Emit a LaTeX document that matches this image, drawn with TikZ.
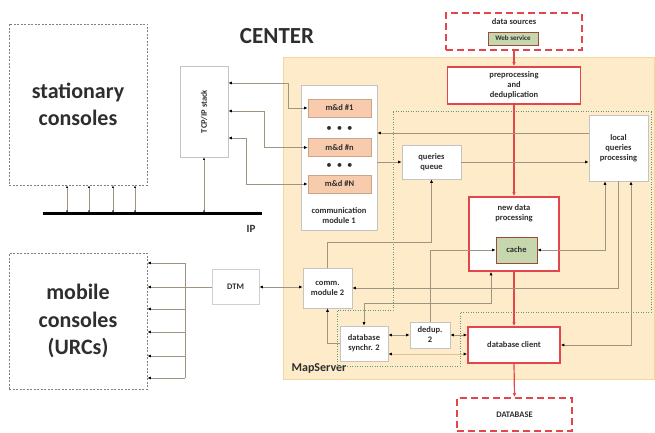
\documentclass[tikz,border=0pt]{standalone}
\usepackage{fontspec}
\setmainfont{Carlito}
\usetikzlibrary{arrows.meta,calc}
\definecolor{bgor}{HTML}{FDEBC9}
\definecolor{bgorline}{HTML}{F2D79E}
\definecolor{redc}{HTML}{E2464A}
\definecolor{txt}{HTML}{2E2E2E}
\definecolor{boxgray}{HTML}{C4C4C4}
\definecolor{lnc}{HTML}{9E9480}
\definecolor{mdfill}{HTML}{F8CBAD}
\definecolor{mdline}{HTML}{C9A58A}
\definecolor{grfill}{HTML}{C6D7AE}
\definecolor{grline}{HTML}{9C4A3A}
\definecolor{dotg}{HTML}{5F9A80}
\begin{document}
\begin{tikzpicture}[x=1pt,y=-1pt,
  font=\fontsize{8.5}{10}\selectfont\bfseries, text=txt,
  box/.style={draw=boxgray, fill=white, line width=0.6pt, align=center, inner sep=1pt, text=txt},
  redbox/.style={draw=redc, line width=1.6pt, fill=white, align=center, inner sep=1pt},
  dashred/.style={draw=redc, line width=1.6pt, dash pattern=on 7pt off 4pt, fill=white, align=center},
  console/.style={draw=gray, line width=0.8pt, dash pattern=on 2pt off 1.5pt, fill=white, align=center, font=\fontsize{22}{27.5}\selectfont\bfseries},
  mdbox/.style={draw=mdline, fill=mdfill, line width=0.6pt, minimum width=63pt, minimum height=18pt, inner sep=0pt},
  grbox/.style={draw=grline, fill=grfill, line width=0.8pt, inner sep=0pt},
  cn/.style={draw=lnc, line width=0.7pt},
  ar/.style={-{Latex[length=3.5pt,width=3pt,color=black]}},
  dar/.style={{Latex[length=3.5pt,width=3pt,color=black]}-{Latex[length=3.5pt,width=3pt,color=black]}},
  sar/.style={{Latex[length=2.5pt,width=2pt,color=black]}-{Latex[length=2.5pt,width=2pt,color=black]}},
  rar/.style={draw=redc, line width=1.2pt, -{Latex[length=4pt,width=3.5pt]}},
  lbl/.style={inner sep=0pt, align=center}
]
\useasboundingbox (0,0) rectangle (655,433);
% MapServer region
\node[draw=bgorline, fill=bgor, line width=1pt, minimum width=371pt, minimum height=321pt, inner sep=0pt] (ms) at (469,218.5) {};
\node[lbl, font=\fontsize{12}{14}\selectfont\bfseries] (mslbl) at (319,369) {MapServer};
% dotted green boundary
\draw[dotg, line width=1pt, dash pattern=on 1pt off 1.5pt] (393,112) -- (651,112) -- (651,312) -- (460,312) -- (460,366) -- (337,366) -- (337,310) -- (393,310) -- cycle;
% title
\node[lbl, font=\fontsize{23}{26}\selectfont\bfseries] (center) at (277,36) {CENTER};
% consoles
\node[console, minimum width=138pt, minimum height=161pt] (stat) at (78,104.5) {stationary\\consoles};
\node[console, minimum width=138pt, minimum height=136pt] (mob) at (78,321) {mobile\\consoles\\(URCs)};
% IP bus
\coordinate (busL) at (43,213);
\coordinate (busR) at (262,213);
\draw[line width=3pt] (busL) -- (busR);
\node[lbl, font=\fontsize{11}{13}\selectfont\bfseries] (ip) at (251,229) {IP};
% TCP/IP
\node[box, minimum width=48pt, minimum height=91pt] (tcp) at (204,111.5) {};
\node[lbl, rotate=90] (tcpt) at (tcp.center) {TCP/IP stack};
% communication module 1
\node[box, minimum width=76pt, minimum height=145pt] (cm1) at (339,157.5) {};
\node[mdbox] (m1) at (339.5,108) {m\&d \#1};
\node[mdbox] (mn) at (339.5,147.5) {m\&d \#n};
\node[mdbox] (mN) at (339.5,184) {m\&d \#N};
\node[lbl, font=\fontsize{11}{13}\selectfont] (d1) at (339.5,129) {\textbullet\ \ \textbullet\ \ \textbullet};
\node[lbl, font=\fontsize{11}{13}\selectfont] (d2) at (339.5,166) {\textbullet\ \ \textbullet\ \ \textbullet};
\node[lbl] (cm1t) at (339,216) {communication\\module 1};
% data sources
\node[dashred, minimum width=136pt, minimum height=37pt] (ds) at (514,31.5) {};
\node[lbl] (dst) at (514,22) {data sources};
\node[grbox, minimum width=50pt, minimum height=13pt, font=\fontsize{7}{8}\selectfont\bfseries] (web) at (513,38.5) {Web service};
% processing chain
\node[redbox, minimum width=133pt, minimum height=37pt] (pre) at (514,85.5) {preprocessing\\and\\deduplication};
\node[redbox, minimum width=90pt, minimum height=74pt] (ndp) at (514,234) {};
\node[lbl] (ndpt) at (514,213) {new data\\processing};
\node[grbox, minimum width=41pt, minimum height=26pt] (cache) at (516.5,250) {cache};
\node[redbox, minimum width=92pt, minimum height=36pt] (dbc) at (514,345) {database client};
\node[dashred, minimum width=115pt, minimum height=33pt] (db) at (514.5,414.5) {DATABASE};
% queries
\node[box, minimum width=59pt, minimum height=34pt] (qq) at (431.5,162) {queries\\queue};
\node[box, minimum width=59pt, minimum height=66pt] (lqp) at (618.5,148) {local\\queries\\processing};
% lower modules
\node[box, draw=boxgray!80, minimum width=47pt, minimum height=35pt] (dtm) at (235.5,287) {DTM};
\node[box, minimum width=49pt, minimum height=40pt] (cm2) at (327.5,288) {comm.\\module 2};
\node[box, minimum width=48pt, minimum height=35pt] (dbs) at (364,343.5) {database\\synchr. 2};
\node[box, minimum width=40pt, minimum height=26pt] (dd) at (430,335) {dedup.\\2};
% red flow
\draw[rar] (ds.south) -- (pre.north);
\draw[rar] (pre.south) -- (ndp.north);
\draw[rar] (ndp.south) -- (dbc.north);
\draw[rar] (dbc.south) -- (db.north);
% stationary consoles to bus
\foreach \xx in {67,89,113,135} \draw[cn, sar] (\xx,0 |- stat.south) -- (\xx,0 |- busL);
\draw[cn, sar] (tcp.south) -- (tcp.south |- busL);
% TCP/IP to m&d
\draw[cn, dar] (tcp.east |- 0,83) -| (288,0 |- m1.west) -- (m1.west);
\draw[cn, dar] (tcp.east |- 0,111) -| (264,0 |- mn.west) -- (mn.west);
\draw[cn, dar] (tcp.east |- 0,138) -| (246,0 |- mN.west) -- (mN.west);
% queries
\draw[cn, ar] (lqp.west |- 0,133) -- (cm1.east |- 0,133);
\draw[cn, ar] (cm1.east |- qq.west) -- (qq.west);
\draw[cn, ar] (qq.east) -- (lqp.west |- qq.east);
\draw[cn, ar] (cm2.north) -- (cm2.north |- 0,242) -| (qq.south);
% cache links
\draw[cn, ar] (dd.north) |- (cache.west);
\draw[cn, dar] (cache.east) -| (605,0 |- lqp.south);
\draw[cn, ar] (lqp.south) |- (cm2.east);
\draw[cn, dar] (dbc.east) -| (631,0 |- lqp.south);
\draw[cn, dar] (491,0 |- ndp.south) -- (491,303) -| (dbs.north);
\draw[cn, ar] (dbs.west) -| (cm2.south);
\draw[cn, dar] (dbs.east |- dd.west) -- (dd.west);
\draw[cn, dar] (dd.east) -- (dbc.west |- dd.east);
\draw[draw=bgorline!70!lnc, line width=1pt, dar] (dbc.west |- 0,354) -- (dbs.east |- 0,354);
% DTM links
\draw[cn, dar] (dtm.east) -- (cm2.west |- dtm.east);
\draw[cn, ar] (dtm.west) -- (mob.east |- dtm.west);
\coordinate (mv) at (185,263);
\draw[cn] (mv) -- (185,378);
\foreach \yy in {263,309,332,356,378} \draw[cn, ar] (185,\yy) -- (mob.east |- 0,\yy);
\end{tikzpicture}
\end{document}
